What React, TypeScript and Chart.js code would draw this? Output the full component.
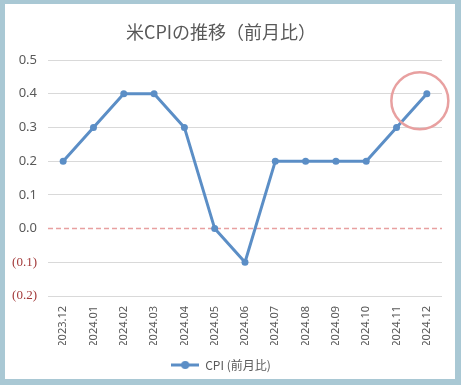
import React, { useEffect, useRef } from "react";
import { Chart, registerables } from "chart.js";

Chart.register(...registerables);

const categories = [
  "2023.12", "2024.01", "2024.02", "2024.03", "2024.04", "2024.05", "2024.06",
  "2024.07", "2024.08", "2024.09", "2024.10", "2024.11", "2024.12",
];
const cpiMoM = [0.2, 0.3, 0.4, 0.4, 0.3, 0.0, -0.1, 0.2, 0.2, 0.2, 0.2, 0.3, 0.4];
const titleText = "米CPIの推移（前月比）";
const seriesName = "CPI (前月比)";
const yMin = -0.2;
const yMax = 0.5;
const yStep = 0.1;

const LINE_COLOR = "#5b8ec6";
const TEXT_COLOR = "#595959";
const NEG_COLOR = "#a33a3a";
const GRID_COLOR = "#d9d9d9";
const FRAME_COLOR = "#a9c8d4";
const ACCENT = "#e8a0a0";

function isZero(v: number) {
  return Math.abs(v) < 1e-9;
}

export default function App() {
  const ref = useRef<HTMLCanvasElement | null>(null);

  useEffect(() => {
    document.body.style.margin = "0";
    const canvas = ref.current;
    if (!canvas) return;

    const marker = document.createElement("canvas");
    marker.width = 28;
    marker.height = 10;
    const mctx = marker.getContext("2d")!;
    mctx.strokeStyle = LINE_COLOR;
    mctx.lineWidth = 3;
    mctx.beginPath();
    mctx.moveTo(0, 5);
    mctx.lineTo(28, 5);
    mctx.stroke();
    mctx.fillStyle = LINE_COLOR;
    mctx.beginPath();
    mctx.arc(14, 5, 4, 0, Math.PI * 2);
    mctx.fill();

    const framePlugin = {
      id: "frame",
      beforeDraw(chart: any) {
        const { ctx, width, height } = chart;
        ctx.save();
        ctx.fillStyle = FRAME_COLOR;
        ctx.fillRect(0, 0, width, height);
        ctx.fillStyle = "#ffffff";
        ctx.fillRect(5, 4, width - 11, height - 10);
        ctx.restore();
      },
    };

    const zeroLinePlugin = {
      id: "zeroLine",
      beforeDatasetsDraw(chart: any) {
        const { ctx, chartArea, scales } = chart;
        const y = scales.y.getPixelForValue(0);
        ctx.save();
        ctx.strokeStyle = ACCENT;
        ctx.lineWidth = 1.5;
        ctx.setLineDash([5, 3]);
        ctx.beginPath();
        ctx.moveTo(chartArea.left, y);
        ctx.lineTo(chartArea.right, y);
        ctx.stroke();
        ctx.restore();
      },
    };

    const highlightPlugin = {
      id: "highlight",
      afterDatasetsDraw(chart: any) {
        const { ctx, scales } = chart;
        const last = categories.length - 1;
        const cx = scales.x.getPixelForValue(last) - 7;
        const cy = scales.y.getPixelForValue(cpiMoM[last]) + 7;
        ctx.save();
        ctx.strokeStyle = ACCENT;
        ctx.lineWidth = 2.5;
        ctx.beginPath();
        ctx.arc(cx, cy, 28.5, 0, Math.PI * 2);
        ctx.stroke();
        ctx.restore();
      },
    };

    const chart = new Chart(canvas, {
      type: "line",
      data: {
        labels: categories,
        datasets: [
          {
            label: seriesName,
            data: cpiMoM,
            borderColor: LINE_COLOR,
            backgroundColor: LINE_COLOR,
            borderWidth: 3,
            pointRadius: 3.5,
            pointBackgroundColor: LINE_COLOR,
            pointBorderWidth: 0,
            tension: 0,
          },
        ],
      },
      options: {
        responsive: false,
        animation: false,
        layout: { padding: { top: 0, left: 0, right: 19, bottom: 4 } },
        plugins: {
          title: {
            display: true,
            text: titleText,
            color: TEXT_COLOR,
            font: { family: "'Noto Sans CJK JP', sans-serif", size: 18, weight: "normal" },
            padding: { top: 21, bottom: 17.4 },
          },
          legend: {
            position: "bottom",
            labels: {
              usePointStyle: true,
              pointStyle: marker as any,
              pointStyleWidth: 28,
              color: TEXT_COLOR,
              padding: 14,
              font: { family: "'Noto Sans CJK JP', sans-serif", size: 12 },
            },
          },
          tooltip: { enabled: false },
        },
        scales: {
          x: {
            offset: true,
            grid: { display: false },
            border: { display: false },
            ticks: {
              minRotation: 90,
              maxRotation: 90,
              autoSkip: false,
              padding: 2,
              color: TEXT_COLOR,
              font: { family: "'Noto Sans', sans-serif", size: 11 },
            },
            afterFit(scale: any) {
              scale.height = 49;
            },
          },
          y: {
            min: yMin,
            max: yMax,
            border: { display: false },
            grid: {
              drawTicks: false,
              color: (ctx: any) => (ctx.tick && isZero(ctx.tick.value) ? "rgba(0,0,0,0)" : GRID_COLOR),
            },
            ticks: {
              stepSize: yStep,
              padding: 11,
              color: (ctx: any) => (ctx.tick && ctx.tick.value < -1e-9 ? NEG_COLOR : TEXT_COLOR),
              font: (ctx: any) =>
                ctx.tick && ctx.tick.value < -1e-9
                  ? { family: "'Liberation Serif', serif", size: 13 }
                  : { family: "'Noto Sans', sans-serif", size: 13 },
              callback: (value: any) => {
                const v = Number(value);
                if (v < -1e-9) return `(${Math.abs(v).toFixed(1)})`;
                return (isZero(v) ? 0 : v).toFixed(1);
              },
            },
            afterFit(scale: any) {
              scale.width = 48;
            },
          },
        },
      },
      plugins: [framePlugin, zeroLinePlugin, highlightPlugin],
    });

    return () => chart.destroy();
  }, []);

  return (
    <div style={{ width: 461, height: 385 }}>
      <canvas ref={ref} width={461} height={385} style={{ display: "block" }} />
    </div>
  );
}
